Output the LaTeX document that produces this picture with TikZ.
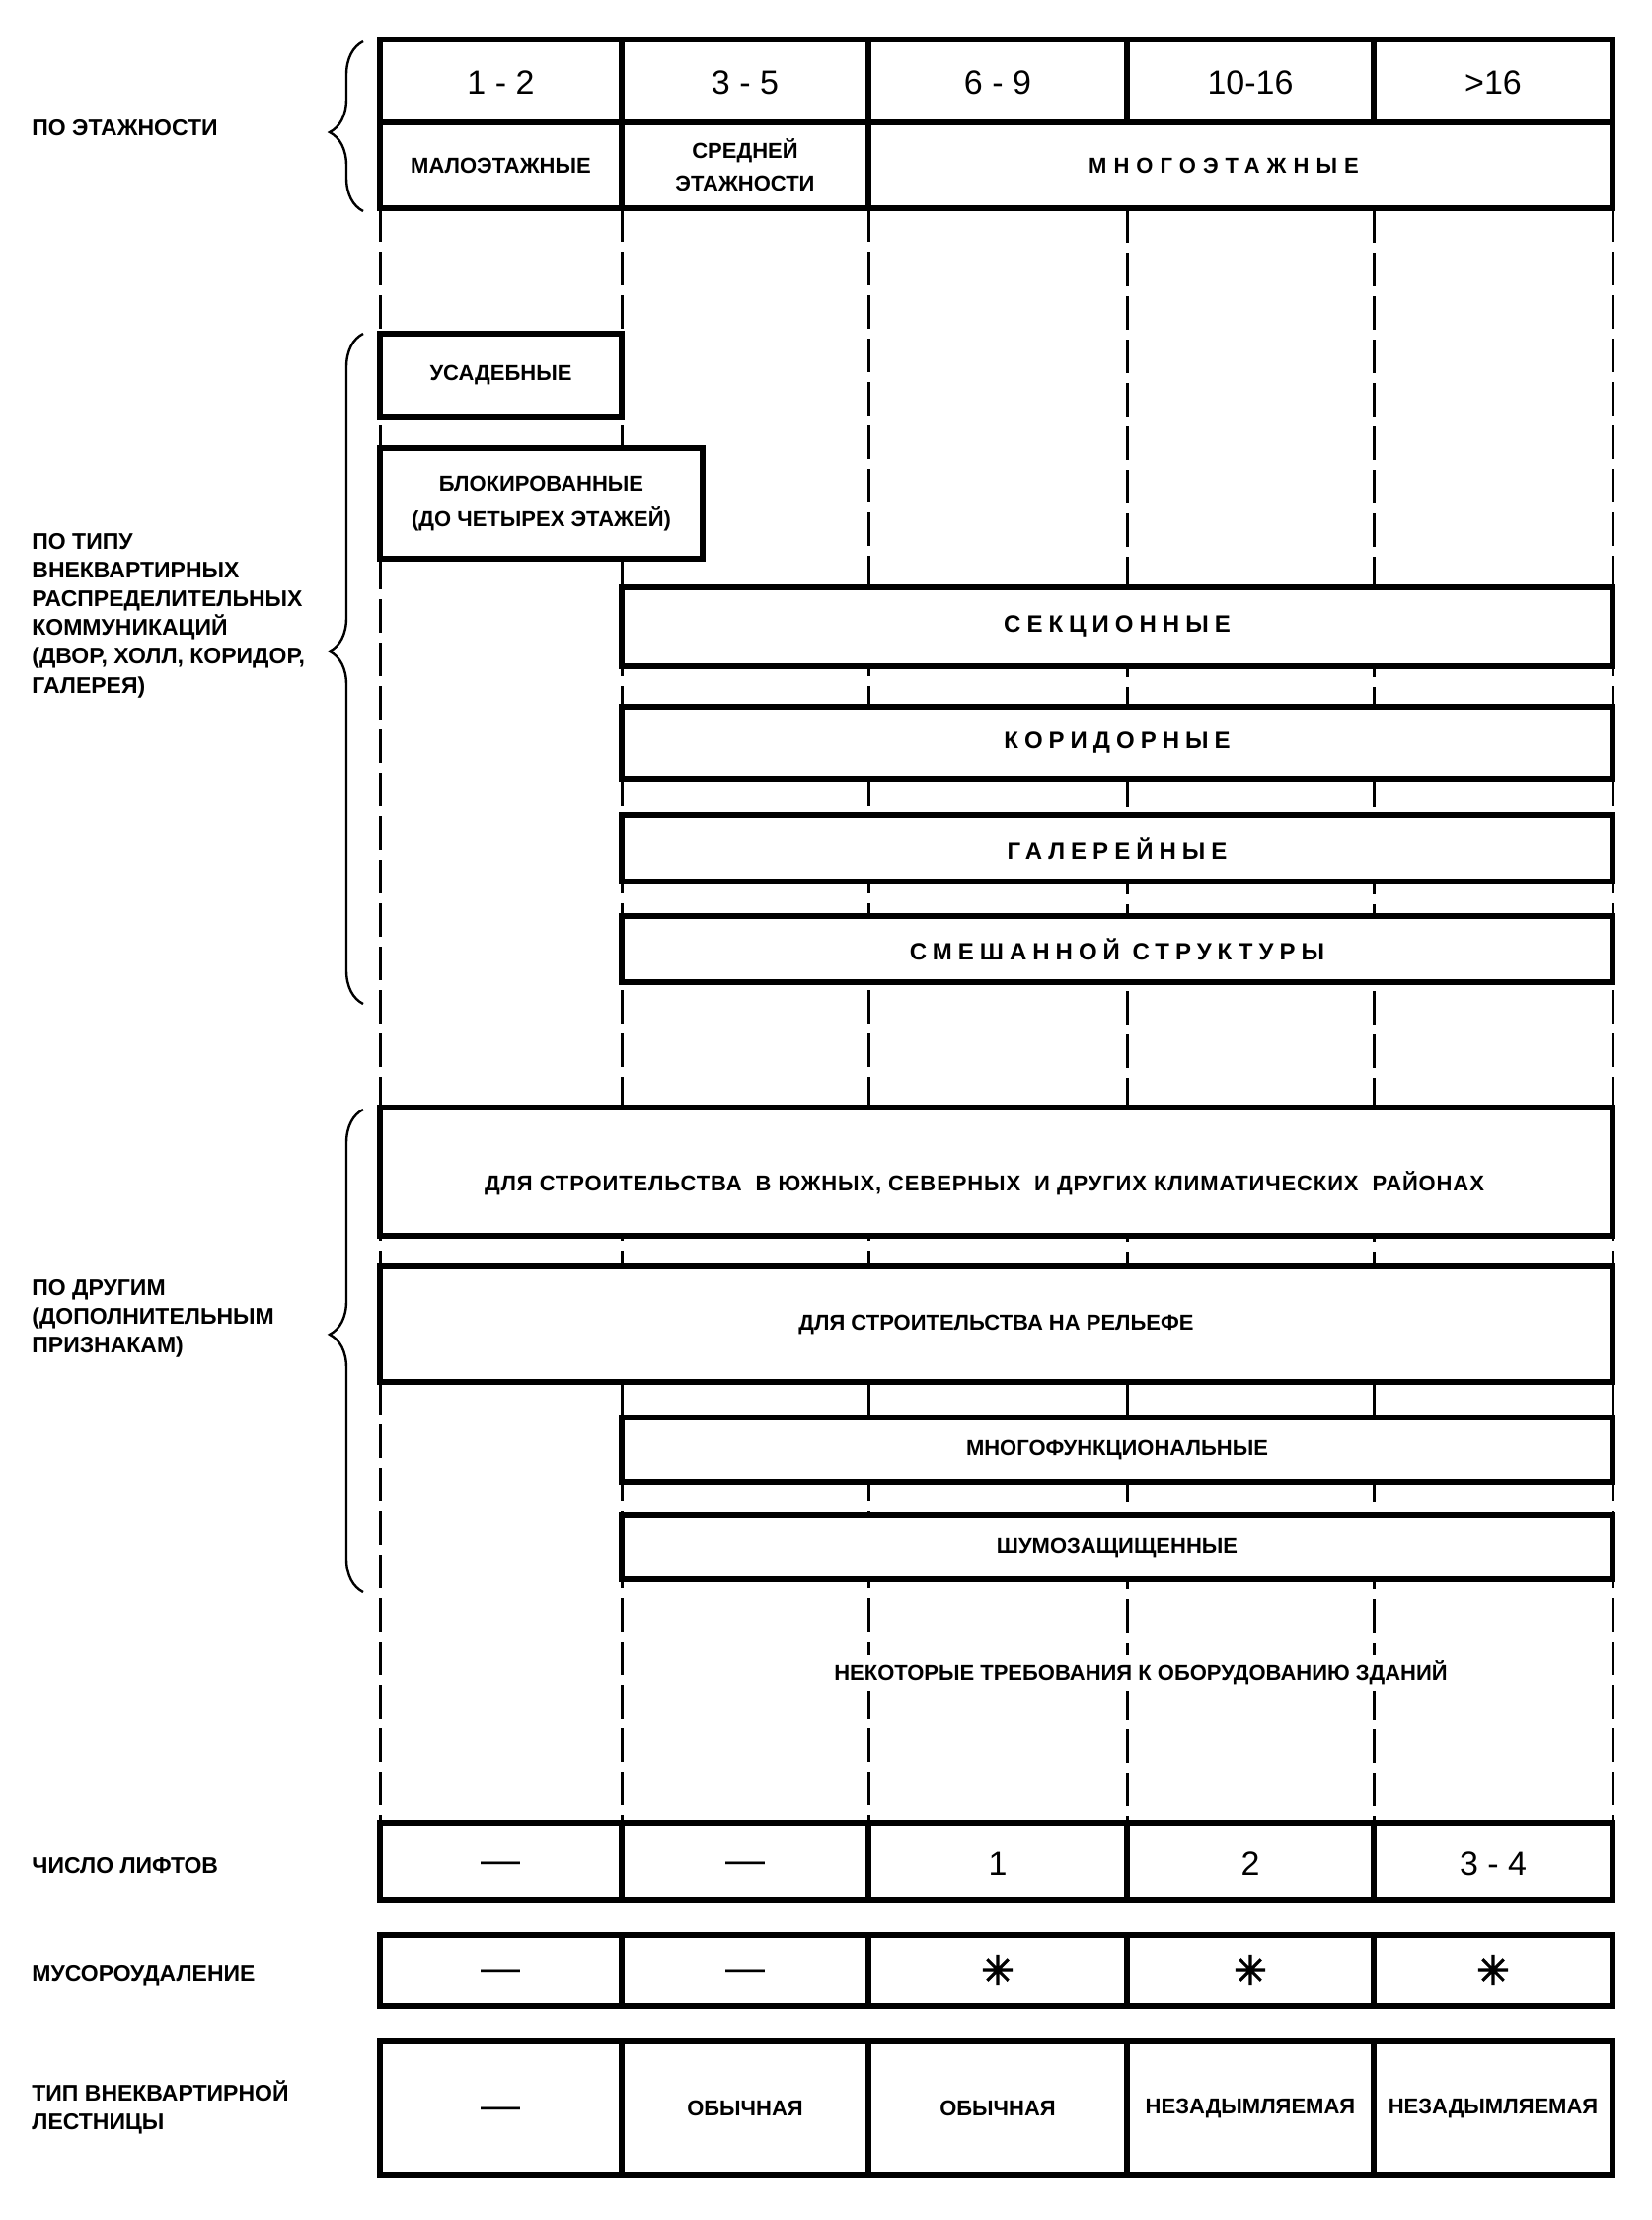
\documentclass[tikz,border=0pt]{standalone}
\usepackage{fontspec}
\setmainfont{Liberation Sans}
\newfontfamily\symfont[FakeBold=3]{DejaVu Sans}
\usetikzlibrary{decorations.pathreplacing,backgrounds}
\newcommand\lsp[2]{{\addfontfeatures{LetterSpace=#1}#2}}
\tikzset{
  cell/.style={draw, line width=3pt, fill=white, inner sep=0pt, outer sep=0pt,
    align=center, font=\bfseries\fontsize{11}{16.5}\selectfont},
  spaced/.style={font=\bfseries\fontsize{12}{14}\selectfont},
  num/.style={font=\fontsize{17}{20}\selectfont, text height=13pt, text depth=0pt},
  dashcell/.style={font=\fontsize{20}{20}\selectfont, text height=11pt, text depth=0pt},
  starcell/.style={font=\symfont\fontsize{20}{20}\selectfont},
  lbl/.style={anchor=west, align=left, inner sep=0pt, font=\bfseries\fontsize{11.5}{14.6}\selectfont},
  dashline/.style={line width=1.5pt, dash pattern=on 17pt off 5pt},
  bracestyle/.style={decorate, decoration={brace, amplitude=17pt, aspect=#1}, line width=1.2pt},
}
\begin{document}
\begin{tikzpicture}[x=0.5pt, y=-0.5pt]
\useasboundingbox (0,0) rectangle (1674,2249);

% ---- top table ----
\node[cell, num, minimum width=122.5pt, minimum height=42pt] (t11) at (507.5,82) {1 - 2};
\node[cell, num, minimum width=125pt, minimum height=42pt] (t12) at (755,82) {3 - 5};
\node[cell, num, minimum width=131pt, minimum height=42pt] (t13) at (1011,82) {6 - 9};
\node[cell, num, minimum width=125pt, minimum height=42pt] (t14) at (1267,82) {10-16};
\node[cell, num, minimum width=121pt, minimum height=42pt] (t15) at (1513,82) {>16};
\node[cell, minimum width=122.5pt, minimum height=43.5pt] (t21) at (507.5,167.5) {МАЛОЭТАЖНЫЕ};
\node[cell, minimum width=125pt, minimum height=43.5pt] (t22) at (755,167.5) {СРЕДНЕЙ\\ЭТАЖНОСТИ};
\node[cell, minimum width=377pt, minimum height=43.5pt, font=\bfseries\fontsize{11}{12}\selectfont] (t23) at (1257,167.5) {\lsp{32}{МНОГОЭТАЖНЫЕ}\hspace*{17pt}};

% ---- type boxes ----
\node[cell, minimum width=122.5pt, minimum height=42pt] (usad) at (507.5,380) {УСАДЕБНЫЕ};
\node[cell, minimum width=163.5pt, minimum height=56pt, font=\bfseries\fontsize{11}{18}\selectfont] (blok) at (548.5,510) {БЛОКИРОВАННЫЕ\\(ДО ЧЕТЫРЕХ ЭТАЖЕЙ)};
\node[cell, spaced, minimum width=502pt, minimum height=40pt] (sekc) at (1132,635) {\lsp{25}{СЕКЦИОННЫЕ}};
\node[cell, spaced, minimum width=502pt, minimum height=36.5pt] (korid) at (1132,752.5) {\lsp{25}{КОРИДОРНЫЕ}};
\node[cell, spaced, minimum width=502pt, minimum height=33.5pt] (galer) at (1132,859.5) {\lsp{25}{ГАЛЕРЕЙНЫЕ}};
\node[cell, spaced, minimum width=502pt, minimum height=33.5pt] (smesh) at (1132,961.5) {\lsp{25}{СМЕШАННОЙ СТРУКТУРЫ}};

% ---- other boxes ----
\node[cell, minimum width=624.5pt, minimum height=65pt, text height=19pt, text depth=0pt] (klim) at (1009.5,1187) {\lsp{4}{ДЛЯ СТРОИТЕЛЬСТВА\ \ В ЮЖНЫХ, СЕВЕРНЫХ\ \ И ДРУГИХ КЛИМАТИЧЕСКИХ\ \ РАЙОНАХ}\hspace*{12pt}};
\node[cell, minimum width=624.5pt, minimum height=58.5pt] (relief) at (1009.5,1341.5) {ДЛЯ СТРОИТЕЛЬСТВА НА РЕЛЬЕФЕ};
\node[cell, minimum width=502pt, minimum height=32.5pt] (multi) at (1132,1468.5) {МНОГОФУНКЦИОНАЛЬНЫЕ};
\node[cell, minimum width=502pt, minimum height=32.5pt] (shum) at (1132,1567.5) {ШУМОЗАЩИЩЕННЫЕ};
\node[fill=white, inner sep=3pt, font=\bfseries\fontsize{11}{14}\selectfont] (treb) at (1156,1695) {НЕКОТОРЫЕ ТРЕБОВАНИЯ К ОБОРУДОВАНИЮ ЗДАНИЙ};

% ---- lifts ----
\node[cell, dashcell, minimum width=122.5pt, minimum height=39pt] (l1) at (507.5,1886) {—};
\node[cell, dashcell, minimum width=125pt, minimum height=39pt] (l2) at (755,1886) {—};
\node[cell, num, minimum width=131pt, minimum height=39pt] (l3) at (1011,1886) {1};
\node[cell, num, minimum width=125pt, minimum height=39pt] (l4) at (1267,1886) {2};
\node[cell, num, minimum width=121pt, minimum height=39pt] (l5) at (1513,1886) {3 - 4};

% ---- waste ----
\node[cell, dashcell, minimum width=122.5pt, minimum height=36pt] (w1) at (507.5,1996) {—};
\node[cell, dashcell, minimum width=125pt, minimum height=36pt] (w2) at (755,1996) {—};
\node[cell, starcell, minimum width=131pt, minimum height=36pt] (w3) at (1011,1996) {✳};
\node[cell, starcell, minimum width=125pt, minimum height=36pt] (w4) at (1267,1996) {✳};
\node[cell, starcell, minimum width=121pt, minimum height=36pt] (w5) at (1513,1996) {✳};

% ---- stairs ----
\node[cell, dashcell, minimum width=122.5pt, minimum height=67.5pt] (s1) at (507.5,2135.5) {—};
\node[cell, minimum width=125pt, minimum height=67.5pt] (s2) at (755,2135.5) {ОБЫЧНАЯ};
\node[cell, minimum width=131pt, minimum height=67.5pt] (s3) at (1011,2135.5) {ОБЫЧНАЯ};
\node[cell, minimum width=125pt, minimum height=67.5pt] (s4) at (1267,2135.5) {НЕЗАДЫМЛЯЕМАЯ};
\node[cell, minimum width=121pt, minimum height=67.5pt] (s5) at (1513,2135.5) {НЕЗАДЫМЛЯЕМАЯ};

% ---- left labels ----
\node[lbl] (lab1) at (32,130) {ПО ЭТАЖНОСТИ};
\node[lbl] (lab2) at (32,623.5) {ПО ТИПУ\\ВНЕКВАРТИРНЫХ\\РАСПРЕДЕЛИТЕЛЬНЫХ\\КОММУНИКАЦИЙ\\(ДВОР, ХОЛЛ, КОРИДОР,\\ГАЛЕРЕЯ)};
\node[lbl] (lab3) at (32,1336) {ПО ДРУГИМ\\(ДОПОЛНИТЕЛЬНЫМ\\ПРИЗНАКАМ)};
\node[lbl] (lab4) at (32,1890) {ЧИСЛО ЛИФТОВ};
\node[lbl] (lab5) at (32,2002) {МУСОРОУДАЛЕНИЕ};
\node[lbl] (lab6) at (32,2135) {ТИП ВНЕКВАРТИРНОЙ\\ЛЕСТНИЦЫ};

% ---- braces ----
\coordinate (b1s) at (368,214);  \coordinate (b1e) at (368,42);
\coordinate (b2s) at (368,1017); \coordinate (b2e) at (368,338);
\coordinate (b3s) at (368,1613); \coordinate (b3e) at (368,1124);
\draw[bracestyle=0.465] (b1s) -- (b1e);
\draw[bracestyle=0.526] (b2s) -- (b2e);
\draw[bracestyle=0.534] (b3s) -- (b3e);

% ---- dashed guide lines ----
\begin{scope}[on background layer]
  \fill[white] (0,0) rectangle (1674,2249);
  \draw[dashline] (t21.south west) -- (l1.north west);
  \draw[dashline] (t21.south east) -- (l1.north east);
  \draw[dashline] (t23.south west) -- (l3.north west);
  \draw[dashline] (t14.south west) -- (l4.north west);
  \draw[dashline] (t15.south west) -- (l5.north west);
  \draw[dashline] (t23.south east) -- (l5.north east);
\end{scope}
\end{tikzpicture}
\end{document}
